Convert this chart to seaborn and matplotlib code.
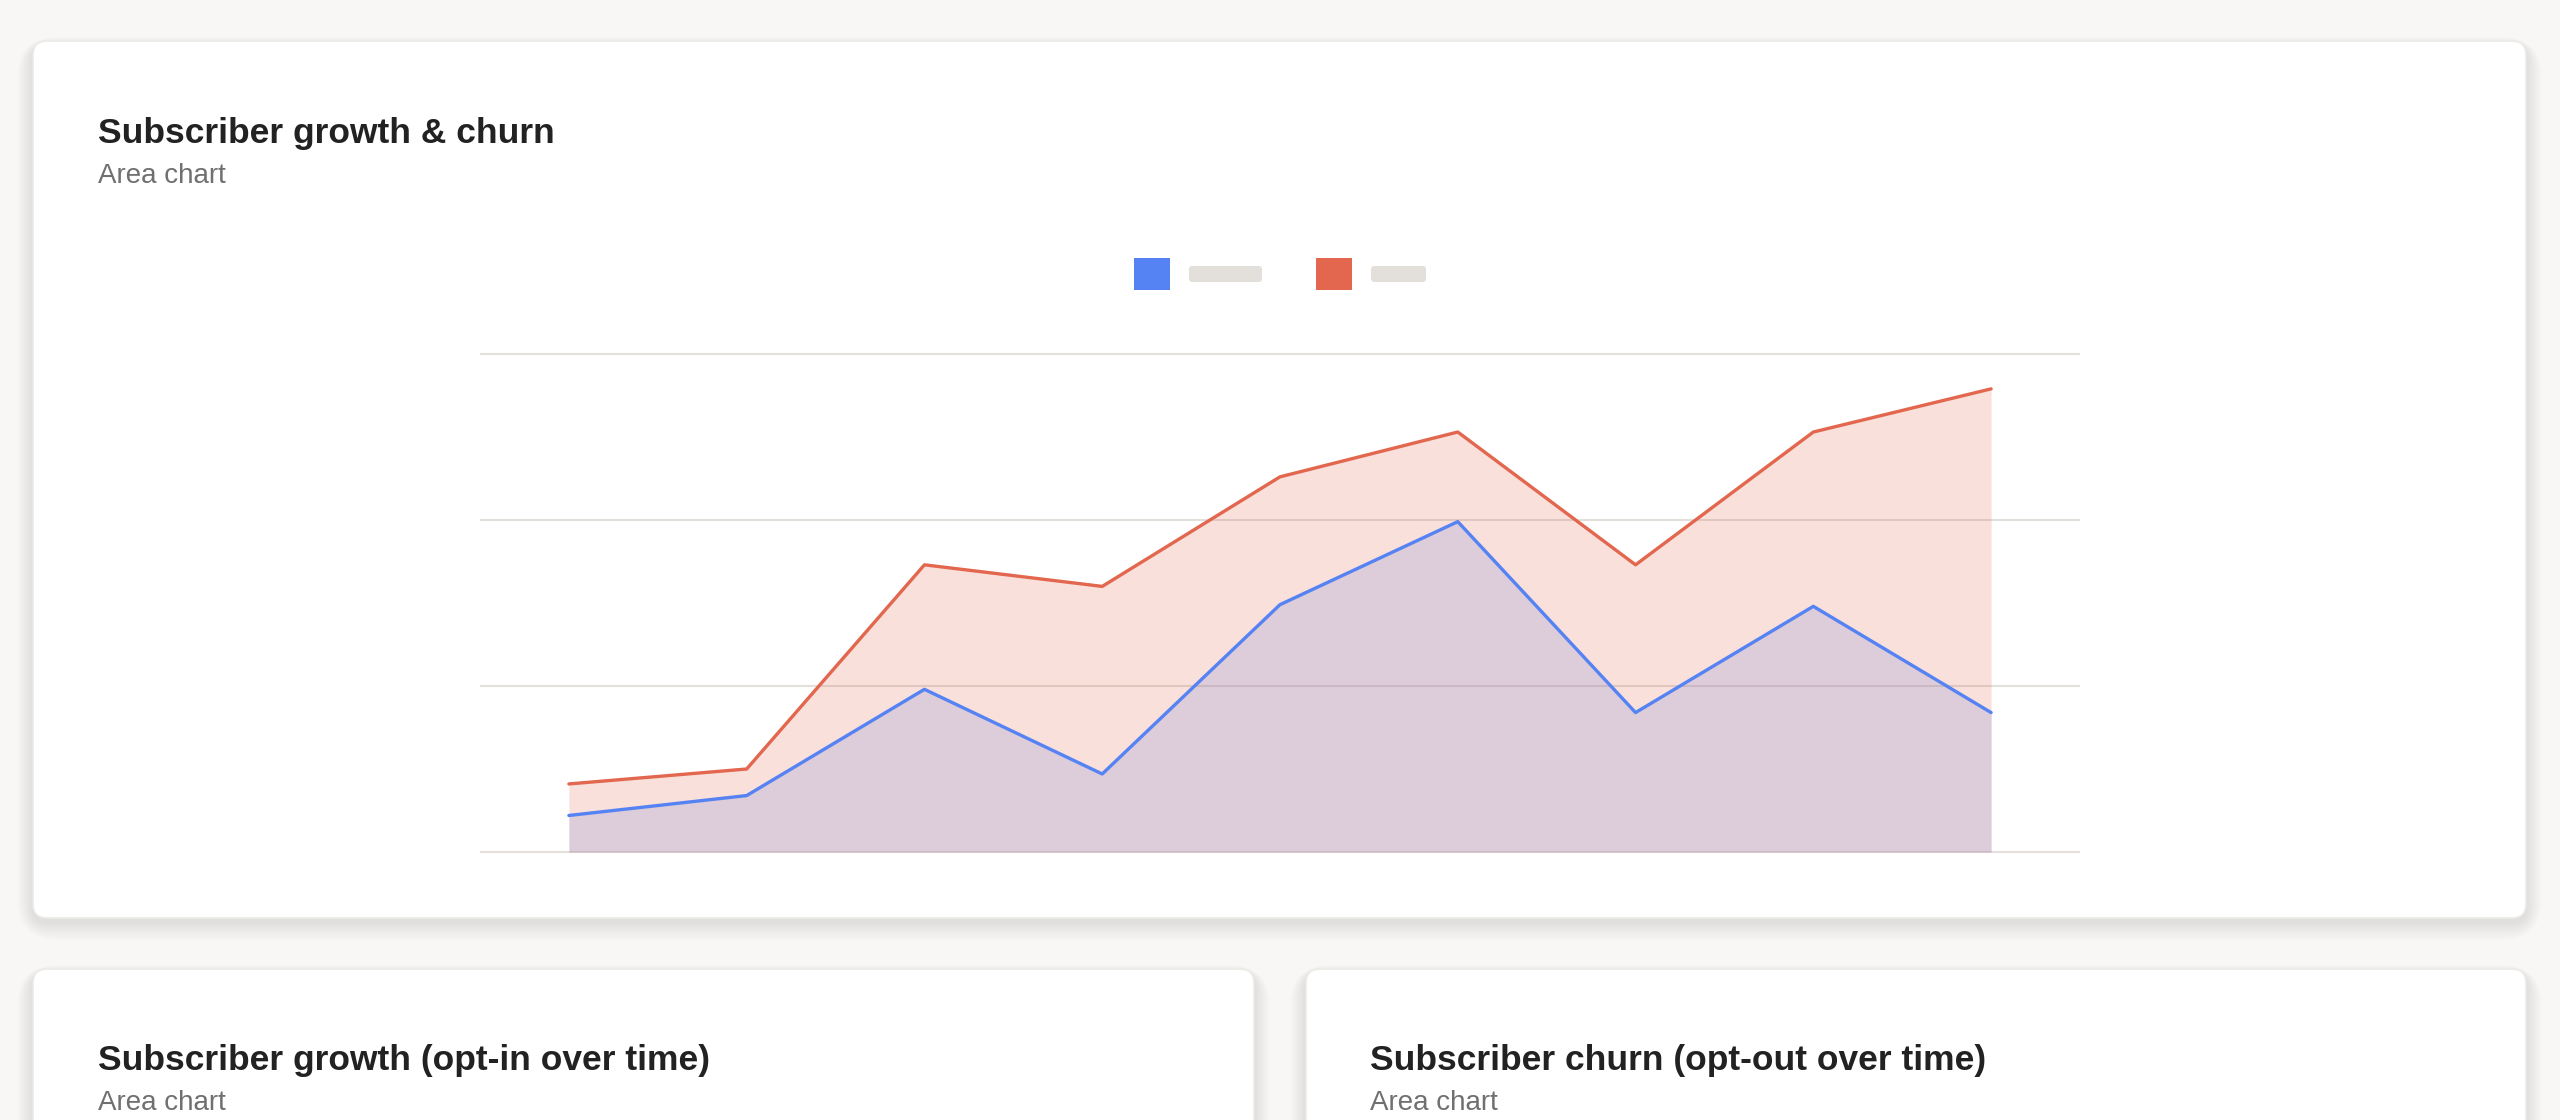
import numpy as np
import pandas as pd
import matplotlib
matplotlib.use("Agg")
import matplotlib.pyplot as plt
from matplotlib.patches import FancyBboxPatch
import seaborn as sns

# ---------------- data ----------------
periods = ["P1", "P2", "P3", "P4", "P5", "P6", "P7", "P8", "P9"]
growth = [22, 34, 98, 47, 149, 199, 84, 148, 84]        # opt-in (blue)
churn = [41, 50, 173, 160, 226, 253, 173, 253, 279]     # opt-out (red)
series_names = ["Growth", "Churn"]
series_colors = ["#5683F3", "#E2674E"]
y_ticks = [0, 100, 200, 300]

main_title = "Subscriber growth & churn"
sub_title = "Area chart"
card2_title = "Subscriber growth (opt-in over time)"
card3_title = "Subscriber churn (opt-out over time)"

# ---------------- style ----------------
sns.set_theme(style="white")
plt.rcParams["font.family"] = ["Liberation Sans", "DejaVu Sans"]

BG = "#F8F7F5"
GRID = "#E3E0DC"
W, H = 2560, 1120
fig = plt.figure(figsize=(W / 100, H / 100), dpi=100, facecolor=BG)

# background axes in pixel coordinates
bg = fig.add_axes([0, 0, 1, 1], zorder=0)
bg.set_xlim(0, W)
bg.set_ylim(H, 0)
bg.axis("off")
bg.set_facecolor(BG)


def card(x0, y0, x1, y1):
    w, h = x1 - x0, y1 - y0
    for i in range(12):
        p = 2 + i * 2.2
        sh = FancyBboxPatch((x0 - p * 0.6, y0 - p * 0.3 + 4), w + p * 1.2, h + p * 1.0,
                            boxstyle="round,pad=0,rounding_size=%f" % (14 + p),
                            facecolor="black", edgecolor="none", alpha=0.008)
        bg.add_patch(sh)
    c = FancyBboxPatch((x0, y0), w, h, boxstyle="round,pad=0,rounding_size=14",
                       facecolor="white", edgecolor="#ECEAE7", linewidth=1.2)
    bg.add_patch(c)


card(33, 41, 2526, 918)
card(33, 969, 1254, 1160)
card(1306, 969, 2526, 1160)

TITLE_KW = dict(fontsize=25.5, fontweight="bold", color="#222222", va="baseline", ha="left")
SUB_KW = dict(fontsize=20, color="#707070", va="baseline", ha="left")

bg.text(98, 143, main_title, **TITLE_KW)
bg.text(98, 183, sub_title, **SUB_KW)
bg.text(98, 1070, card2_title, **TITLE_KW)
bg.text(98, 1110, sub_title, **SUB_KW)
bg.text(1370, 1070, card3_title, **TITLE_KW)
bg.text(1370, 1110, sub_title, **SUB_KW)

# legend: colour squares + grey placeholder bars
legend_x = [1134, 1316]
placeholder_w = [73, 55]
for lx, col, pw in zip(legend_x, series_colors, placeholder_w):
    bg.add_patch(plt.Rectangle((lx, 258), 36, 32, facecolor=col, edgecolor="none"))
    bg.add_patch(FancyBboxPatch((lx + 55, 266), pw, 16,
                                boxstyle="round,pad=0,rounding_size=3",
                                facecolor="#E3E0DC", edgecolor="none"))

# ---------------- chart axes ----------------
left, right = 480, 2080
grid_top, grid_bot = 354, 852
pad_px = 10
top_px, bot_px = grid_top - pad_px, grid_bot + pad_px
ax = fig.add_axes([left / W, 1 - bot_px / H, (right - left) / W, (bot_px - top_px) / H], zorder=1)
ax.patch.set_alpha(0)

df = pd.DataFrame({
    "x": list(range(len(periods))) * 2,
    "value": growth + churn,
    "series": [series_names[0]] * len(periods) + [series_names[1]] * len(periods),
})

xs = np.arange(len(periods))
ax.fill_between(xs, 0, growth, color=series_colors[0], alpha=0.2, linewidth=0, zorder=2)
ax.fill_between(xs, 0, churn, color=series_colors[1], alpha=0.2, linewidth=0, zorder=3)

sns.lineplot(data=df, x="x", y="value", hue="series", palette=series_colors,
             linewidth=2.4, legend=False, ax=ax, zorder=4)

pad_units = pad_px * 300 / (grid_bot - grid_top)
ax.set_ylim(-pad_units, 300 + pad_units)
ax.set_xlim(-0.5, len(periods) - 0.5)
ax.set_yticks(y_ticks)
ax.set_xticks([])
ax.set_yticklabels([])
ax.tick_params(left=False, bottom=False)
ax.set_xlabel("")
ax.set_ylabel("")
ax.grid(axis="y", color=GRID, linewidth=1.5)
ax.set_axisbelow(True)
for s in ax.spines.values():
    s.set_visible(False)

fig.savefig("out.png", dpi=100, facecolor=BG)
